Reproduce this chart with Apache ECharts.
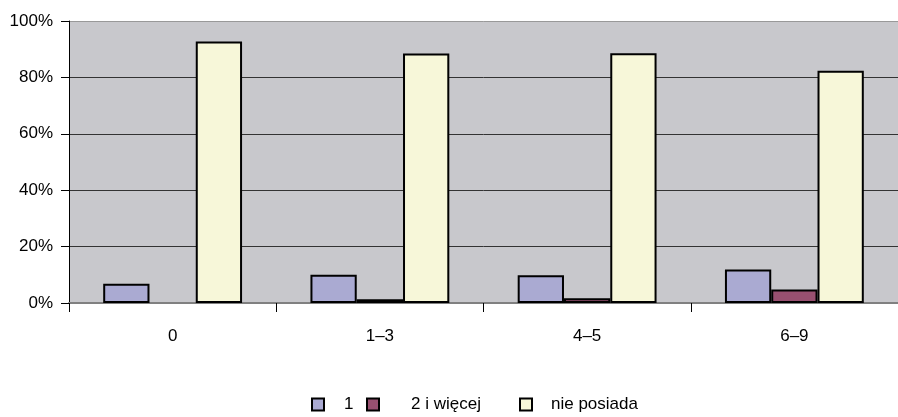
<!DOCTYPE html>
<html>
<head>
<meta charset="utf-8">
<script src="https://cdn.jsdelivr.net/npm/echarts@6/dist/echarts.min.js"></script>
<style>
  html, body { margin: 0; padding: 0; background: #fff; }
  #main { width: 898px; height: 417px; }
</style>
</head>
<body>
<div id="main"></div>
<script>
// dane (procenty)
var categories = ['0', '1–3', '4–5', '6–9'];
var seriesNames = ['1', '2 i więcej', 'nie posiada'];
var valOne = [6.8, 10.0, 9.8, 11.9];
var valTwoMore = [0, 1.3, 1.7, 4.8];
var valNone = [92.7, 88.5, 88.6, 82.4];
var yTicks = [0, 20, 40, 60, 80, 100];

var colors = ['#aaaad2', '#985070', '#f7f7d9'];
var font = 'Liberation Sans, Arial, sans-serif';
var fSize = 17;

function barData(arr) {
    // przy zerze nie rysujemy obramowania
    return arr.map(function (v) {
        return { value: v, itemStyle: { borderWidth: v > 0 ? 2 : 0 } };
    });
}

function legendAt(name, left, pad) {
    return {
        data: [name],
        left: left,
        top: 396,
        padding: 0,
        itemWidth: 12,
        itemHeight: 12,
        icon: 'rect',
        selectedMode: false,
        itemStyle: { borderColor: '#000', borderWidth: 2 },
        textStyle: { fontFamily: font, fontSize: fSize, color: '#000', padding: [0, 0, 0, pad] }
    };
}

var myChart = echarts.init(document.getElementById('main'));

var option = {
    animation: false,
    grid: {
        left: 69, right: -1, top: 21, bottom: 114,
        show: true, backgroundColor: '#c8c8cc', borderWidth: 0
    },
    legend: [
        legendAt(seriesNames[0], 311, 15),
        legendAt(seriesNames[1], 366, 27),
        legendAt(seriesNames[2], 519, 14)
    ],
    xAxis: {
        type: 'category',
        data: categories,
        axisLine: { lineStyle: { color: '#808080', width: 2 } },
        axisTick: { show: true, length: 9, lineStyle: { color: '#000', width: 1 } },
        axisLabel: { margin: 25, fontFamily: font, fontSize: fSize, color: '#000' }
    },
    yAxis: {
        type: 'value',
        min: yTicks[0],
        max: yTicks[yTicks.length - 1],
        interval: 20,
        axisLine: { show: true, lineStyle: { color: '#000', width: 1 } },
        axisTick: { show: true, length: 8, lineStyle: { color: '#000' } },
        axisLabel: { margin: 16, formatter: '{value}%', fontFamily: font, fontSize: fSize, color: '#000' },
        splitLine: {
            show: true,
            lineStyle: { color: ['#333', '#333', '#333', '#333', '#333', '#999'], width: 1 }
        }
    },
    series: [
        { name: seriesNames[0], type: 'bar', data: barData(valOne) },
        { name: seriesNames[1], type: 'bar', data: barData(valTwoMore) },
        { name: seriesNames[2], type: 'bar', data: barData(valNone) }
    ].map(function (s, i) {
        s.barGap = '0%';
        s.barCategoryGap = '33%';
        s.itemStyle = { color: colors[i], borderColor: '#000', borderWidth: 2 };
        return s;
    })
};

myChart.setOption(option);
</script>
</body>
</html>
